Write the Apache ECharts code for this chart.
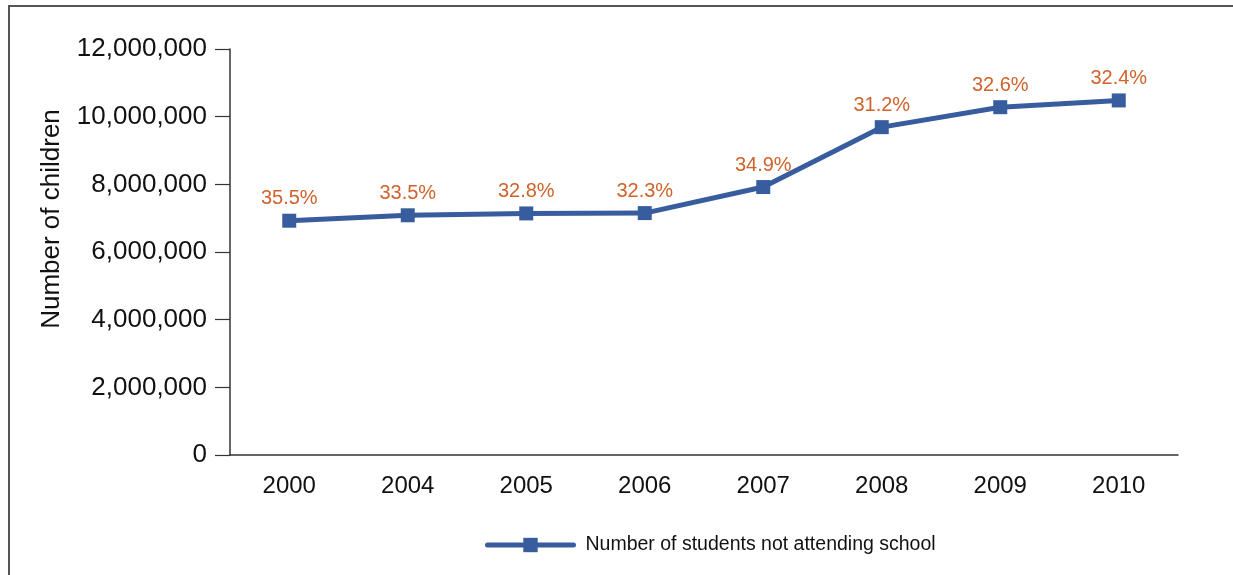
<!DOCTYPE html>
<html>
<head>
<meta charset="utf-8">
<script src="https://cdn.jsdelivr.net/npm/echarts@6/dist/echarts.min.js"></script>
<style>
html,body{margin:0;padding:0;background:#fff;}
#main{width:1233px;height:575px;}
</style>
</head>
<body>
<div id="main"></div>
<script>
const categories = ['2000','2004','2005','2006','2007','2008','2009','2010'];
const studentsNotAttending = [6925000, 7085000, 7140000, 7150000, 7920000, 9690000, 10280000, 10480000];
const percentLabels = ['35.5%','33.5%','32.8%','32.3%','34.9%','31.2%','32.6%','32.4%'];
const yTicks = [0, 2000000, 4000000, 6000000, 8000000, 10000000, 12000000];
const seriesName = 'Number of students not attending school';
const yAxisTitle = 'Number of children';

const FONT = '"Liberation Sans", Arial, sans-serif';
const chart = echarts.init(document.getElementById('main'));
chart.setOption({
  backgroundColor: '#fff',
  animation: false,
  graphic: [
    { type: 'rect', shape: { x: 9, y: 6, width: 1400, height: 800 }, style: { fill: 'none', stroke: '#555', lineWidth: 2 }, silent: true },
    { type: 'text', x: 52, y: 219, rotation: Math.PI / 2,
      style: { text: yAxisTitle, font: '26px ' + FONT, fill: '#111', align: 'center', verticalAlign: 'middle' } }
  ],
  legend: {
    left: 480, top: 530,
    itemWidth: 86, itemHeight: 18,
    data: [seriesName],
    lineStyle: { width: 5, cap: 'round' },
    textStyle: { fontFamily: FONT, fontSize: 19.5, color: '#111', padding: [0, 0, 0, 7] }
  },
  grid: { left: 230, right: 55, top: 49, bottom: 120, containLabel: false },
  xAxis: {
    type: 'category',
    data: categories,
    boundaryGap: true,
    axisLine: { lineStyle: { color: '#333', width: 1.5 } },
    axisTick: { inside: true, length: 10, lineStyle: { color: '#333', width: 1.2 } },
    axisLabel: { fontFamily: FONT, fontSize: 24, color: '#111', margin: 19 }
  },
  yAxis: {
    type: 'value',
    min: 0, max: 12000000, interval: 2000000,
    splitLine: { show: false },
    axisLine: { show: true, lineStyle: { color: '#333', width: 1.5 } },
    axisTick: { show: true, length: 15, lineStyle: { color: '#333', width: 1.2 } },
    axisLabel: {
      fontFamily: FONT, fontSize: 26, color: '#111', margin: 23,
      formatter: v => yTicks.includes(v) ? v.toLocaleString('en-US') : ''
    }
  },
  series: [{
    name: seriesName,
    type: 'line',
    data: studentsNotAttending,
    symbol: 'rect',
    symbolSize: 14,
    lineStyle: { color: '#385D9E', width: 5 },
    itemStyle: { color: '#385D9E' },
    label: {
      show: true, position: 'top', distance: 5,
      formatter: p => percentLabels[p.dataIndex],
      fontFamily: FONT, fontSize: 20, color: '#D0622A'
    }
  }]
});
</script>
</body>
</html>
